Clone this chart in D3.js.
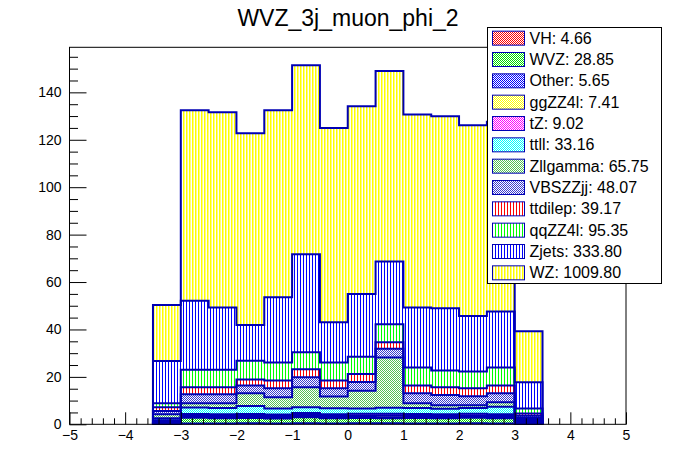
<!DOCTYPE html>
<html><head><meta charset="utf-8">
<script src="https://cdn.jsdelivr.net/npm/d3@7"></script>
<style>
body{margin:0;background:#fff}
svg{display:block}
text{font-family:"Liberation Sans",Arial,Helvetica,sans-serif;fill:#000}
</style>
</head><body>
<svg id="c" width="696" height="472"></svg>
<script>
// ---------------- data ----------------
const binLow = [-3.5,-3,-2.5,-2,-1.5,-1,-0.5,0,0.5,1,1.5,2,2.5,3];
const binWidth = 0.5;

const VH       = [0.1,0.35,0.35,0.4,0.35,0.4,0.35,0.4,0.4,0.35,0.35,0.4,0.35,0.1];
const WVZ      = [0.5,2.4,2.2,2.3,2.1,2.6,2.2,2.3,2.2,2.3,2.2,2.4,2.2,0.8];
const Other    = [0.8,0.35,0.4,0.35,0.4,0.45,0.35,0.4,0.4,0.35,0.35,0.4,0.35,0.3];
const ggZZ4l   = [0.15,0.55,0.6,0.55,0.6,0.6,0.55,0.6,0.75,0.55,0.6,0.55,0.6,0.15];
const tZ       = [0.2,0.7,0.7,0.75,0.7,0.7,0.75,0.7,0.7,0.75,0.7,0.7,0.75,0.2];
const ttll     = [0.8,2.7,2.6,3.4,2.5,2.4,2.6,2.3,2.5,2.6,2.4,2.4,3.2,0.7];
const Zllgamma = [1.7,1.85,2.05,5.35,4.75,8.45,4.9,7.5,21.25,2.0,1.4,1.15,1.85,0.5];
const VBSZZjj  = [1.35,3.8,3.8,3.3,3.8,4.2,3.5,3.6,3.7,4.2,4.4,3.8,3.8,0.85];
const ttdilep  = [1.6,2.9,2.9,2.5,3.3,3.4,3.3,3.4,2.7,3.3,3.2,3.4,3.3,1.0];
const qqZZ4l   = [1.7,7.4,7.4,7.9,7.6,7.2,7.6,7.3,7.6,7.6,7.1,7.1,7.6,2.1];
const Zjets    = [17.8,29.1,26.3,15.1,27.5,41.3,16.9,26.5,26.5,25.3,26.2,23.4,23.6,11.0];
const WZ       = [23.6,80.3,82.3,80.8,78.8,79.7,82.0,79.1,80.3,81.4,81.0,80.4,80.0,21.5];

const seriesNames  = ["VH","WVZ","Other","ggZZ4l","tZ","ttll","Zllgamma","VBSZZjj","ttdilep","qqZZ4l","Zjets","WZ"];
const seriesValues = [VH,WVZ,Other,ggZZ4l,tZ,ttll,Zllgamma,VBSZZjj,ttdilep,qqZZ4l,Zjets,WZ];
const legendTotals = [4.66,28.85,5.65,7.41,9.02,33.16,65.75,48.07,39.17,95.35,333.80,1009.80];

const xTicks = [-5,-4,-3,-2,-1,0,1,2,3,4,5];
const yTicks = [0,20,40,60,80,100,120,140];
const titleText = "WVZ_3j_muon_phi_2";

// ---------------- styles ----------------
const lineColor = "#0000b4";
const styles = {
  VH:       {kind:"check", color:"#ff0000"},
  WVZ:      {kind:"check", color:"#00e000"},
  Other:    {kind:"check", color:"#0000ff"},
  ggZZ4l:   {kind:"check", color:"#ffff00"},
  tZ:       {kind:"check", color:"#ff00ff"},
  ttll:     {kind:"check", color:"#00ffff"},
  Zllgamma: {kind:"check", color:"#55c055"},
  VBSZZjj:  {kind:"check", color:"#3a3ad0"},
  ttdilep:  {kind:"vline", color:"#ff0000", w:1},
  qqZZ4l:   {kind:"vline", color:"#00ff00", w:1},
  Zjets:    {kind:"vline", color:"#0000ff", w:1},
  WZ:       {kind:"vline", color:"#ffff00", w:1.5}
};

// ---------------- layout ----------------
const svg = d3.select("#c");
const W = 696, H = 472;
const frame = {left:69.5, right:626, top:47.3, bottom:424.3};
const x = d3.scaleLinear().domain([-5,5]).range([frame.left, frame.right]);
const y = d3.scaleLinear().domain([0,159]).range([frame.bottom, frame.top]);

svg.append("rect").attr("width",W).attr("height",H).attr("fill","#fff");

// patterns
const defs = svg.append("defs");
seriesNames.forEach(n => {
  const s = styles[n];
  if (s.kind === "check") {
    const p = defs.append("pattern").attr("id","p_"+n).attr("patternUnits","userSpaceOnUse")
      .attr("width",2).attr("height",2);
    p.append("rect").attr("width",2).attr("height",2).attr("fill","#fff");
    p.append("rect").attr("x",0).attr("y",0).attr("width",1).attr("height",1).attr("fill",s.color).attr("shape-rendering","crispEdges");
    p.append("rect").attr("x",1).attr("y",1).attr("width",1).attr("height",1).attr("fill",s.color).attr("shape-rendering","crispEdges");
  } else {
    const p = defs.append("pattern").attr("id","p_"+n).attr("patternUnits","userSpaceOnUse")
      .attr("width",3).attr("height",3);
    p.append("rect").attr("width",3).attr("height",3).attr("fill","#fff");
    p.append("rect").attr("x",0).attr("y",0).attr("width",s.w).attr("height",3).attr("fill",s.color);
  }
});

// stack
const table = binLow.map((b,i) => {
  const row = {low:b};
  seriesNames.forEach((n,k) => row[n] = seriesValues[k][i]);
  return row;
});
const stacked = d3.stack().keys(seriesNames)(table);

const plot = svg.append("g");
const area = d3.area().x(p => x(p.x)).y0(p => y(p.y0)).y1(p => y(p.y1));
const line = d3.line().x(p => x(p.x)).y(p => y(p.y));

stacked.forEach(layer => {
  const pts = [];
  layer.forEach((d,i) => {
    pts.push({x:binLow[i], y0:d[0], y1:d[1]});
    pts.push({x:binLow[i]+binWidth, y0:d[0], y1:d[1]});
  });
  plot.append("path").attr("d", area(pts)).attr("fill","url(#p_"+layer.key+")");
});

stacked.slice().reverse().forEach(layer => {
  const pts = [{x:binLow[0], y:0}];
  layer.forEach((d,i) => {
    pts.push({x:binLow[i], y:d[1]});
    pts.push({x:binLow[i]+binWidth, y:d[1]});
  });
  pts.push({x:binLow[binLow.length-1]+binWidth, y:0});
  plot.append("path").attr("d", line(pts)).attr("fill","none")
    .attr("stroke",lineColor).attr("stroke-width",2).attr("stroke-linejoin","miter");
});

// axes
const yMinor = d3.range(0,159,5).filter(v => yTicks.indexOf(v) < 0);
const xMinor = d3.range(-50,51,2).map(v => v/10).filter(v => xTicks.indexOf(v) < 0);

const gy = svg.append("g").attr("transform",`translate(${frame.left},0)`);
gy.call(d3.axisLeft(y).tickValues(yMinor).tickSize(-8.5).tickSizeOuter(0).tickFormat(""));
gy.call(g => g.select(".domain").remove());
const gy2 = svg.append("g").attr("transform",`translate(${frame.left},0)`);
gy2.call(d3.axisLeft(y).tickValues(yTicks).tickSize(-17).tickSizeOuter(0).tickPadding(8));
gy2.select(".domain").remove();

const gx = svg.append("g").attr("transform",`translate(0,${frame.bottom})`);
gx.call(d3.axisBottom(x).tickValues(xMinor).tickSize(-6).tickSizeOuter(0).tickFormat(""));
gx.select(".domain").remove();
const gx2 = svg.append("g").attr("transform",`translate(0,${frame.bottom})`);
gx2.call(d3.axisBottom(x).tickValues(xTicks).tickSize(-12).tickSizeOuter(0).tickPadding(6));
gx2.select(".domain").remove();

svg.selectAll(".tick line").attr("stroke","#000").attr("stroke-width",1);
svg.selectAll(".tick text").attr("font-size",14).attr("fill","#000")
  .attr("font-family",'"Liberation Sans",Arial,sans-serif');

// frame
svg.append("rect").attr("x",frame.left).attr("y",frame.top)
  .attr("width",frame.right-frame.left).attr("height",frame.bottom-frame.top)
  .attr("fill","none").attr("stroke","#000").attr("stroke-width",1);

// title
svg.append("text").attr("x",348).attr("y",26).attr("text-anchor","middle")
  .attr("font-size",23).text(titleText);

// legend
const lg = {x:487.5, y:27.5, w:174, h:256};
svg.append("rect").attr("x",lg.x).attr("y",lg.y).attr("width",lg.w).attr("height",lg.h)
  .attr("fill","#fff").attr("stroke","#000").attr("stroke-width",1);
const rowH = lg.h / seriesNames.length;
seriesNames.forEach((n,i) => {
  const cy = lg.y + rowH*(i+0.5);
  svg.append("rect").attr("x",492.5).attr("y",cy-7).attr("width",32).attr("height",14)
    .attr("fill","url(#p_"+n+")").attr("stroke",lineColor).attr("stroke-width",1);
  svg.append("text").attr("x",529.5).attr("y",cy+5.5).attr("font-size",16)
    .text(n + ": " + legendTotals[i].toFixed(2));
});
</script>
</body></html>
